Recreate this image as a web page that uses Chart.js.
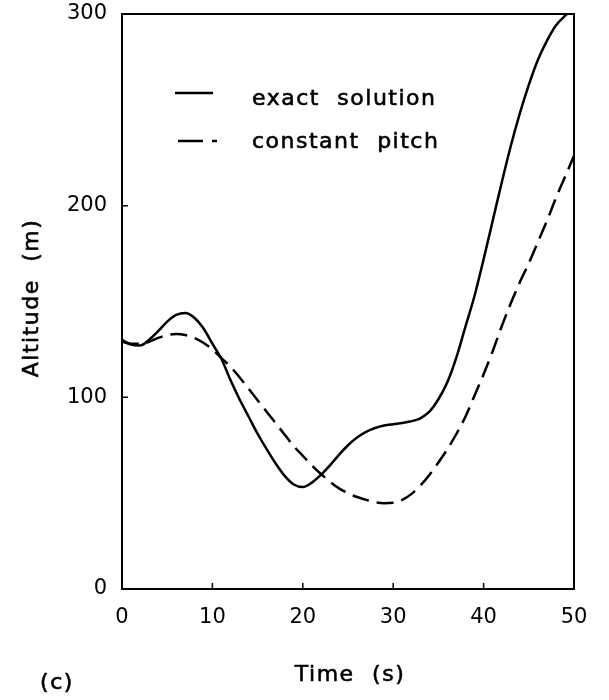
<!DOCTYPE html>
<html>
<head>
<meta charset="utf-8">
<script src="https://cdn.jsdelivr.net/npm/chart.js@4.4.1/dist/chart.umd.min.js"></script>
<style>
  html, body { margin: 0; padding: 0; background: #fff; }
  #wrap { width: 609px; height: 700px; position: relative; }
</style>
</head>
<body>
<div id="wrap"><canvas id="c"></canvas></div>
<script>
// Time axis (s)
const timeS = [0,1,2,3,4,5,6,7,8,9,10,11,12,13,14,15,16,17,18,19,20,21,22,23,24,25,
               26,27,28,29,30,31,32,33,34,35,36,37,38,39,40,41,42,43,44,45,46,47,48,49,50];
// Altitude (m), exact solution
const exactAlt = [130,127.5,127,130,134.5,139.5,143,144,141.5,136,128,120,109,99,90,81,73,65.5,59,54.5,
                  53.2,55.5,59.5,64.5,70,75,79,82,84,85.3,86,86.6,87.5,89,92.5,99,108,121,137,153,
                  172,192,212,231,248,263,276,286,294,299,303];
// Altitude (m), constant pitch
const pitchAlt = [129,128,128,129,131,132.5,133,132.5,131,128.5,125,120.5,116,110.5,104.5,98.5,92.5,86.5,80.5,74.5,
                  69.5,64.5,60,56,52.5,50,48,46.5,45.3,44.8,45,46.5,49.5,54,59.5,66,73,81,90,101,
                  112,124,137,149,160,170,181,192,204,215,226];
const seriesNames = ['exact solution', 'constant pitch'];
const xTicks = [0,10,20,30,40,50];
const yTicks = [0,100,200,300];
const xTitle = 'Time (s)';
const yTitle = 'Altitude (m)';
const panelTag = '(c)';

const FONT = '"DejaVu Sans", sans-serif';

function boldText(ctx, text, x, y) {
  ctx.fillText(text, x, y);
  ctx.strokeText(text, x, y);
}

// frame, inward tick marks, in-plot legend and axis titles
const decorations = {
  id: 'decorations',
  afterDatasetsDraw(chart) {
    const { ctx, chartArea: a, scales: { x, y } } = chart;
    ctx.save();
    ctx.strokeStyle = '#000';
    ctx.lineWidth = 2;
    ctx.strokeRect(a.left, a.top, a.right - a.left, a.bottom - a.top);

    ctx.lineWidth = 1.5;
    ctx.beginPath();
    x.ticks.forEach(t => {
      const px = x.getPixelForValue(t.value);
      ctx.moveTo(px, a.bottom); ctx.lineTo(px, a.bottom - 6);
    });
    y.ticks.forEach(t => {
      const py = y.getPixelForValue(t.value);
      ctx.moveTo(a.left, py); ctx.lineTo(a.left + 6, py);
    });
    ctx.stroke();

    // legend
    ctx.fillStyle = '#000';
    ctx.font = '22px ' + FONT;
    ctx.letterSpacing = '1.5px';
    ctx.wordSpacing = '9px';
    ctx.textAlign = 'left';
    ctx.textBaseline = 'alphabetic';
    const rows = [
      { lineY: a.top + 79, textY: a.top + 91, x0: a.left + 53, x1: a.left + 91, dash: [] },
      { lineY: a.top + 127, textY: a.top + 134, x0: a.left + 56, x1: a.left + 96, dash: [25, 9, 5, 100] }
    ];
    chart.data.datasets.forEach((ds, i) => {
      const r = rows[i];
      ctx.lineWidth = 2.5;
      ctx.setLineDash(r.dash);
      ctx.beginPath();
      ctx.moveTo(r.x0, r.lineY); ctx.lineTo(r.x1, r.lineY);
      ctx.stroke();
      ctx.setLineDash([]);
      ctx.lineWidth = 0.6;
      boldText(ctx, ds.label, a.left + 130, r.textY);
    });

    // axis titles and panel tag
    ctx.lineWidth = 0.6;
    ctx.textAlign = 'center';
    boldText(ctx, xTitle, 350, 681);
    boldText(ctx, panelTag, 57, 689);
    ctx.translate(38, 298);
    ctx.rotate(-Math.PI / 2);
    boldText(ctx, yTitle, 0, 0);
    ctx.restore();
  }
};

new Chart(document.getElementById('c'), {
  type: 'line',
  data: {
    labels: timeS,
    datasets: [
      {
        label: seriesNames[0],
        data: timeS.map((t, i) => ({ x: t, y: exactAlt[i] })),
        borderColor: '#000',
        borderWidth: 2.5,
        pointRadius: 0,
        cubicInterpolationMode: 'monotone',
        fill: false
      },
      {
        label: seriesNames[1],
        data: timeS.map((t, i) => ({ x: t, y: pitchAlt[i] })),
        borderColor: '#000',
        borderWidth: 2.5,
        borderDash: [17, 8],
        pointRadius: 0,
        cubicInterpolationMode: 'monotone',
        fill: false
      }
    ]
  },
  options: {
    responsive: true,
    maintainAspectRatio: false,
    animation: false,
    events: [],
    layout: { padding: { left: 0, right: 35, top: 14, bottom: 0 } },
    plugins: { legend: { display: false }, tooltip: { enabled: false }, title: { display: false } },
    scales: {
      x: {
        type: 'linear',
        min: 0, max: 50,
        afterBuildTicks: s => { s.ticks = xTicks.map(v => ({ value: v })); },
        afterFit: s => { s.height = 111; s.paddingLeft = 0; s.paddingRight = 0; },
        grid: { display: false, drawTicks: false },
        border: { display: false },
        ticks: { color: '#000', padding: 16, font: { family: FONT, size: 21 } }
      },
      y: {
        type: 'linear',
        min: 0, max: 300,
        afterBuildTicks: s => { s.ticks = yTicks.map(v => ({ value: v })); },
        afterFit: s => { s.width = 122; s.paddingTop = 0; s.paddingBottom = 0; },
        grid: { display: false, drawTicks: false },
        border: { display: false },
        ticks: { color: '#000', padding: 15, font: { family: FONT, size: 21 } }
      }
    }
  },
  plugins: [decorations]
});
</script>
</body>
</html>
